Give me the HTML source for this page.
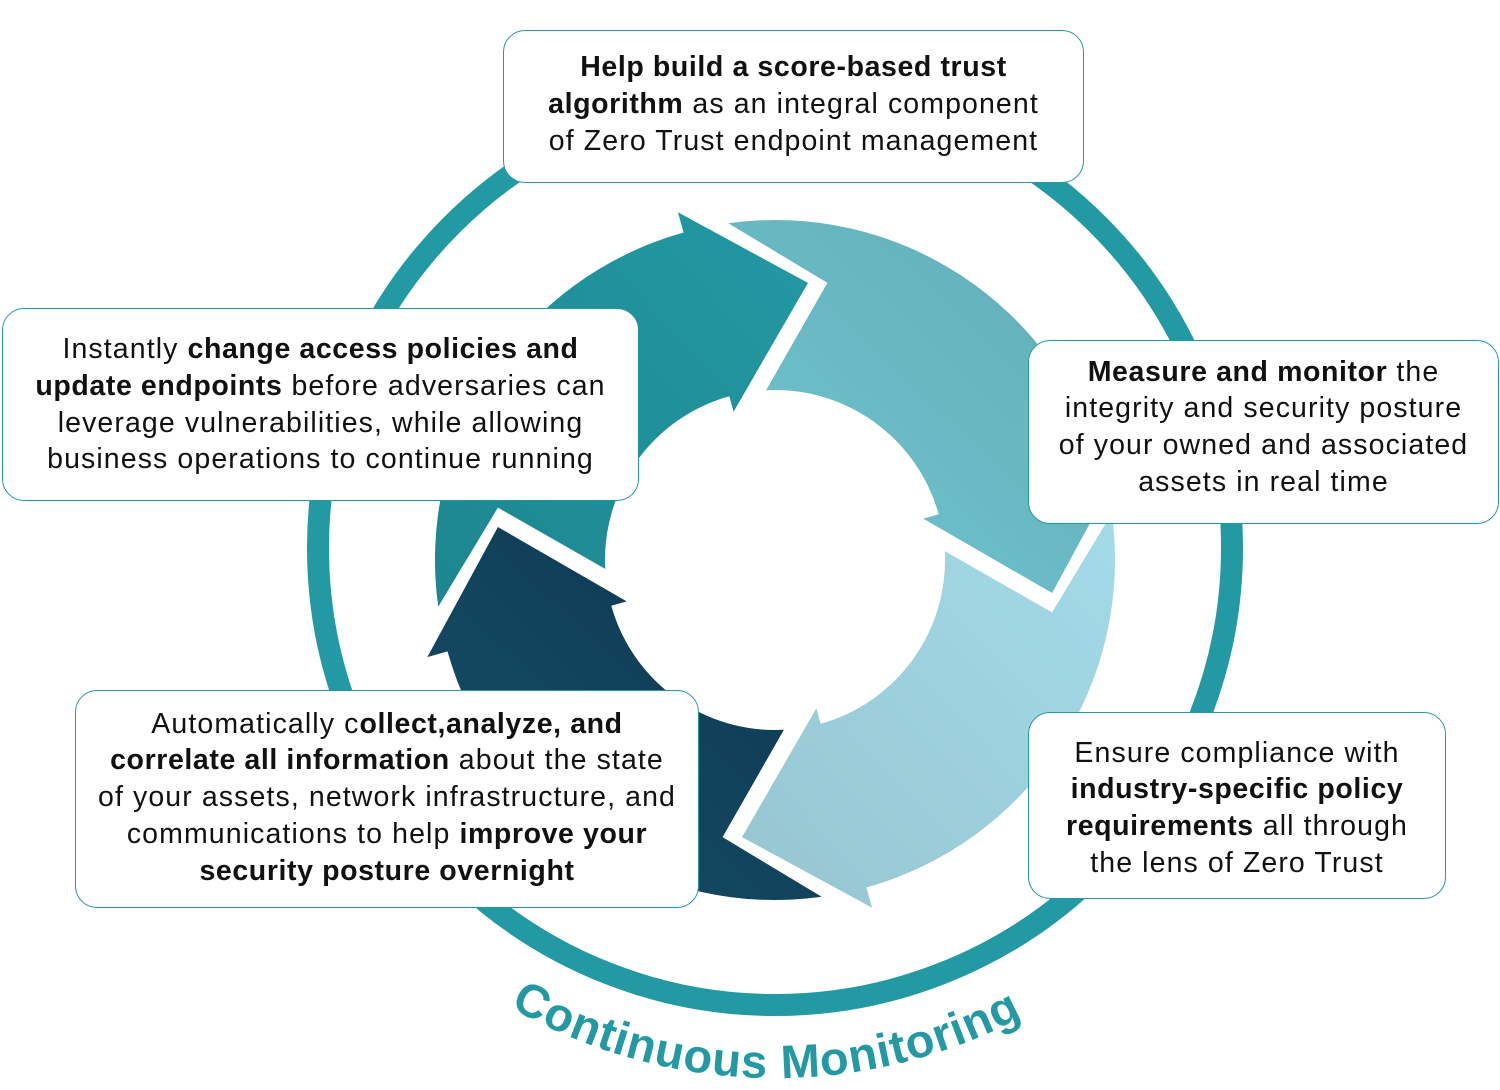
<!DOCTYPE html>
<html><head><meta charset="utf-8"><style>
html,body{margin:0;padding:0;background:#fff;}
#wrap{position:relative;width:1500px;height:1090px;overflow:hidden;font-family:"Liberation Sans",sans-serif;}
svg{position:absolute;left:0;top:0;}
.box{position:absolute;background:#fff;border:1.6px solid #2399a3;border-radius:22px;box-sizing:border-box;}
.t{position:absolute;text-align:center;font-size:28.5px;line-height:36.8px;color:#111;white-space:nowrap;letter-spacing:1.1px;}
.t b{font-weight:700;letter-spacing:0.6px;}
</style></head><body><div id="wrap">
<svg width="1500" height="1090" viewBox="0 0 1500 1090">
<circle cx="775" cy="548" r="457" fill="none" stroke="#2399a3" stroke-width="22"/>
<defs>
<path id="seg" d="M438.2,606.7 A340,340 0 0,1 683.6,232.5 L677.9,212.3 L808,282.9 L733.6,411.7 L729.3,396.3 A170,170 0 0,0 605.2,568.9 L497.9,507.6 Z"/>
<linearGradient id="g0" x1="0" y1="1" x2="1" y2="0"><stop offset="0" stop-color="#1d8690"/><stop offset="1" stop-color="#2399a3"/></linearGradient>
<linearGradient id="g1" x1="0" y1="0" x2="1" y2="1"><stop offset="0" stop-color="#62acb6"/><stop offset="1" stop-color="#6fc6d0"/></linearGradient>
<linearGradient id="g2" x1="1" y1="0" x2="0" y2="1"><stop offset="0" stop-color="#97c5d1"/><stop offset="1" stop-color="#a3dbe8"/></linearGradient>
<linearGradient id="g3" x1="1" y1="1" x2="0" y2="0"><stop offset="0" stop-color="#0d3650"/><stop offset="1" stop-color="#165068"/></linearGradient>
<path id="arc" d="M494.1,997.5 A530,530 0 0,0 1055.9,997.5"/>
</defs>
<use href="#seg" fill="url(#g0)"/>
<use href="#seg" fill="url(#g1)" transform="rotate(90 775 560)"/>
<use href="#seg" fill="url(#g2)" transform="rotate(180 775 560)"/>
<use href="#seg" fill="url(#g3)" transform="rotate(270 775 560)"/>
<text font-family="Liberation Sans, sans-serif" font-weight="700" font-size="47" fill="#2399a3" text-anchor="middle"><textPath href="#arc" startOffset="48.3%" textLength="535" lengthAdjust="spacing">Continuous Monitoring</textPath></text>
</svg>

<div class="box" style="left:503px;top:30px;width:581px;height:153px;"></div>
<div class="t" style="left:503px;width:581px;top:49px;"><b>Help build a score-based trust</b><br><b>algorithm</b> as an integral component<br>of Zero Trust endpoint management</div>

<div class="box" style="left:2px;top:308px;width:637px;height:193px;"></div>
<div class="t" style="left:2px;width:637px;top:331px;">Instantly <b>change access policies and</b><br><b>update endpoints</b> before adversaries can<br>leverage vulnerabilities, while allowing<br>business operations to continue running</div>

<div class="box" style="left:1028px;top:340px;width:471px;height:184px;"></div>
<div class="t" style="left:1028px;width:471px;top:353.5px;"><b>Measure and monitor</b> the<br>integrity and security posture<br>of your owned and associated<br>assets in real time</div>

<div class="box" style="left:75px;top:690px;width:624px;height:218px;"></div>
<div class="t" style="left:75px;width:624px;top:705.5px;">Automatically c<b>ollect,analyze, and</b><br><b>correlate all information</b> about the state<br>of your assets, network infrastructure, and<br>communications to help <b>improve your</b><br><b>security posture overnight</b></div>

<div class="box" style="left:1028px;top:712px;width:418px;height:187px;"></div>
<div class="t" style="left:1028px;width:418px;top:734.5px;">Ensure compliance with<br><b>industry-specific policy</b><br><b>requirements</b> all through<br>the lens of Zero Trust</div>
</div></body></html>
